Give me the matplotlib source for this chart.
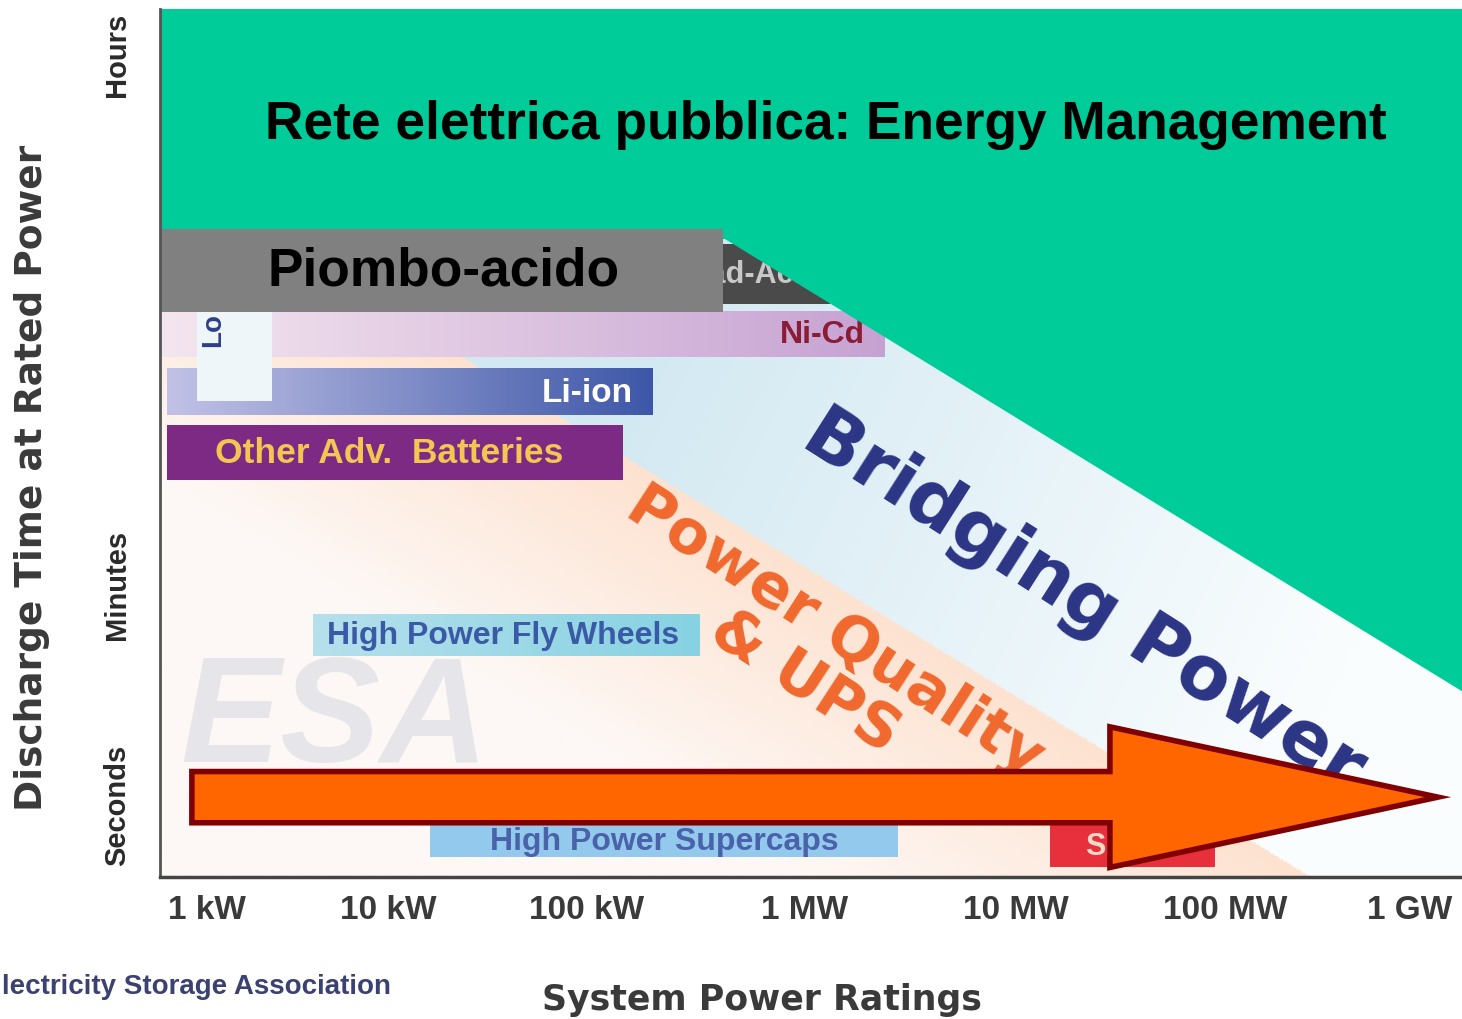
import numpy as np
import matplotlib
matplotlib.use("Agg")
import matplotlib.pyplot as plt
from matplotlib.patches import Polygon, Rectangle, FancyArrow
from matplotlib.colors import to_rgb

# ---------------- data (x = position on the power axis, decades from 1 kW; y = discharge-time scale 0..100) ----
power_ticks = [0, 0.903, 1.895, 2.983, 4.035, 5.077, 6.0]
power_labels = ["1 kW", "10 kW", "100 kW", "1 MW", "10 MW", "100 MW", "1 GW"]
time_ticks = [8.4, 33.8, 94.8]
time_labels = ["Seconds", "Minutes", "Hours"]

# technology bars: name, x_start, x_end, y_bottom, y_top
tech_names = ["Lead-Acid", "Ni-Cd", "Li-ion", "Other Adv.  Batteries", "Lo",
              "High Power Fly Wheels", "High Power Supercaps", "SMES"]
tech_x0 = [-0.234, -0.234, -0.20, -0.20, -0.05, 0.529, 1.112, 4.204]
tech_x1 = [3.107, 3.38, 2.224, 2.075, 0.324, 2.459, 3.446, 5.027]
tech_y0 = [66.0, 59.9, 53.2, 45.7, 54.8, 25.5, 2.3, 1.2]
tech_y1 = [72.9, 65.1, 58.5, 52.1, 65.1, 30.3, 6.0, 6.0]

# overlay bar "Piombo-acido"
lead_x = [-0.234, 2.574]
lead_y = [65.1, 74.7]

# Energy management region (green)
em_x = [-0.234, 6.26, 6.26, 2.584, -0.234]
em_y = [100, 100, 21.4, 73.5, 73.5]

# boundary of power-quality zone at the bottom axis
pq_x_at_bottom = 5.50

# arrow: start power, end power, level
arrow_x = [-0.075, 6.14]
arrow_y = 9.2

W, H = 1462, 1020
XMIN, XMAX = -0.234, 6.26

fig = plt.figure(figsize=(W / 100, H / 100), dpi=100)
fig.patch.set_facecolor("white")
ax = fig.add_axes([160 / W, 142 / H, 1302 / W, 868 / H])
ax.set_xlim(XMIN, XMAX)
ax.set_ylim(0, 100)

NARROW = ["Liberation Sans Narrow", "Liberation Sans", "DejaVu Sans"]
ARIAL = ["Liberation Sans", "DejaVu Sans"]

# ---------------- background gradient ----------------
gx = np.linspace(XMIN, XMAX, 700)
gy = np.linspace(0, 100, 450)
GX, GY = np.meshgrid(gx, gy)
slope = (em_y[2] - em_y[3]) / (em_x[2] - em_x[3])
peach_line = slope * (GX - pq_x_at_bottom)


def mix(c0, c1, t):
    c0 = np.array(to_rgb(c0)); c1 = np.array(to_rgb(c1))
    t = np.clip(t, 0, 1)[..., None]
    return c0 * (1 - t) + c1 * t


blue = mix("#d3e9f2", "#fafdfe", (GX - 1.8) / 4.2 + (40 - GY) / 200)
peach = mix("#fde2d0", "#fdf8f5", (peach_line - GY) / 35)
img = np.where((GY > peach_line)[..., None], blue, peach)
ax.imshow(img, extent=(XMIN, XMAX, 0, 100), origin="lower", aspect="auto", zorder=0)


def grad_bar(x0, x1, y0, y1, c0, c1, z=2):
    t = np.linspace(0, 1, 256)[None, :]
    im = mix(c0, c1, t)
    ax.imshow(im, extent=(x0, x1, y0, y1), origin="lower", aspect="auto", zorder=z)


# ESA watermark
ax.text(-0.13, 17.8, "ESA", fontsize=108, fontweight="bold", style="italic",
        color="#e6e6ea", family=ARIAL, ha="left", va="center", zorder=1)

# bars
i = tech_names.index("Lead-Acid")
ax.add_patch(Rectangle((tech_x0[i], tech_y0[i]), tech_x1[i] - tech_x0[i], tech_y1[i] - tech_y0[i],
                       facecolor="#4a4a4a", edgecolor="none", zorder=2))
ax.text(2.325, (tech_y0[i] + tech_y1[i]) / 2, "Lead-Acid", color="#c8c8c8", fontsize=22,
        fontweight="bold", family=NARROW, ha="left", va="center", zorder=3)

i = tech_names.index("Ni-Cd")
grad_bar(tech_x0[i], tech_x1[i], tech_y0[i], tech_y1[i], "#f4e6ef", "#c6a2d2")
ax.text(tech_x1[i] - 0.1, (tech_y0[i] + tech_y1[i]) / 2, "Ni-Cd", color="#8a1c36", fontsize=23,
        fontweight="bold", family=NARROW, ha="right", va="center", zorder=3)

i = tech_names.index("Li-ion")
grad_bar(tech_x0[i], tech_x1[i], tech_y0[i], tech_y1[i], "#c2c2e6", "#3d57a8")
ax.text(tech_x1[i] - 0.1, (tech_y0[i] + tech_y1[i]) / 2, "Li-ion", color="white", fontsize=24,
        fontweight="bold", family=NARROW, ha="right", va="center", zorder=3)

i = tech_names.index("Other Adv.  Batteries")
ax.add_patch(Rectangle((tech_x0[i], tech_y0[i]), tech_x1[i] - tech_x0[i], tech_y1[i] - tech_y0[i],
                       facecolor="#7c2a84", edgecolor="none", zorder=2))
ax.text(0.04, (tech_y0[i] + tech_y1[i]) / 2, tech_names[i], color="#f2c650", fontsize=25.5,
        fontweight="bold", family=NARROW, ha="left", va="center", zorder=3)

i = tech_names.index("Lo")
ax.add_patch(Rectangle((tech_x0[i], tech_y0[i]), tech_x1[i] - tech_x0[i], tech_y1[i] - tech_y0[i],
                       facecolor="#eef6fa", edgecolor="none", zorder=4))
ax.text(0.03, 61.2, "Lo", color="#2e3e8a", fontsize=20, fontweight="bold", family=NARROW,
        rotation=90, ha="center", va="bottom", zorder=5)

i = tech_names.index("High Power Fly Wheels")
grad_bar(tech_x0[i], tech_x1[i], tech_y0[i], tech_y1[i], "#b6e0ec", "#86d2e2")
ax.text(0.60, (tech_y0[i] + tech_y1[i]) / 2, tech_names[i], color="#3b5aa6", fontsize=23,
        fontweight="bold", family=NARROW, ha="left", va="center", zorder=3)

i = tech_names.index("High Power Supercaps")
ax.add_patch(Rectangle((tech_x0[i], tech_y0[i]), tech_x1[i] - tech_x0[i], tech_y1[i] - tech_y0[i],
                       facecolor="#93c9ec", edgecolor="none", zorder=2))
ax.text((tech_x0[i] + tech_x1[i]) / 2, (tech_y0[i] + tech_y1[i]) / 2, tech_names[i], color="#4a62aa",
        fontsize=23, fontweight="bold", family=NARROW, ha="center", va="center", zorder=3)

i = tech_names.index("SMES")
ax.add_patch(Rectangle((tech_x0[i], tech_y0[i]), tech_x1[i] - tech_x0[i], tech_y1[i] - tech_y0[i],
                       facecolor="#e8303c", edgecolor="none", zorder=2))
ax.text(4.38, (tech_y0[i] + tech_y1[i]) / 2, "SMES", color="#f6d8c8", fontsize=22,
        fontweight="bold", family=NARROW, ha="left", va="center", zorder=3)

# diagonal application labels
ax.text(4.375, 31.8, "Bridging Power", color="#2b3585", fontsize=54, fontweight="heavy",
        family=["DejaVu Sans"], rotation=-32.5, rotation_mode="anchor",
        ha="center", va="center", zorder=3)
ax.text(3.13, 28.3, "Power Quality", color="#f0692e", fontsize=44, fontweight="heavy",
        family=["DejaVu Sans"], rotation=-33, rotation_mode="anchor",
        ha="center", va="center", zorder=3)
ax.text(2.98, 22.5, "& UPS", color="#f0692e", fontsize=44, fontweight="heavy",
        family=["DejaVu Sans"], rotation=-33, rotation_mode="anchor",
        ha="center", va="center", zorder=3)

# energy management region and lead-acid overlay
ax.add_patch(Polygon(np.column_stack([em_x, em_y]), closed=True, facecolor="#00cc99",
                     edgecolor="none", zorder=6))
ax.text(0.289, 86.75, "Rete elettrica pubblica: Energy Management", color="black",
        fontsize=38.3, fontweight="bold", family=ARIAL, ha="left", va="center", zorder=7)
ax.add_patch(Rectangle((lead_x[0], lead_y[0]), lead_x[1] - lead_x[0], lead_y[1] - lead_y[0],
                       facecolor="#808080", edgecolor="none", zorder=7))
ax.text(0.304, (lead_y[0] + lead_y[1]) / 2, "Piombo-acido", color="black", fontsize=38.3,
        fontweight="bold", family=ARIAL, ha="left", va="center", zorder=8)

# big arrow
ax.add_patch(FancyArrow(arrow_x[0], arrow_y, arrow_x[1] - arrow_x[0], 0, width=5.9,
                        head_width=16.2, head_length=1.636, length_includes_head=True,
                        facecolor="#ff6600", edgecolor="#800000", linewidth=4,
                        joinstyle="miter", zorder=9))

# axes styling
ax.set_xticks(power_ticks)
ax.set_xticklabels(power_labels, fontsize=24, fontweight="bold", color="#3a3a3a", family=NARROW)
ax.set_yticks(time_ticks)
ax.set_yticklabels(time_labels, fontsize=21, fontweight="bold", color="#2a2a2a", family=NARROW,
                   rotation=90, va="center")
ax.tick_params(axis="x", length=0, pad=12)
ax.tick_params(axis="y", length=0, pad=21)
for s in ["top", "right"]:
    ax.spines[s].set_visible(False)
ax.spines["left"].set_color("#555555")
ax.spines["left"].set_linewidth(2)
ax.spines["bottom"].set_color("#444444")
ax.spines["bottom"].set_linewidth(2.5)
for s in ["left", "bottom"]:
    ax.spines[s].set_zorder(10)

fig.text(32 / W, 1 - 478 / H, "Discharge Time at Rated Power", rotation=90, fontsize=27,
         fontweight="bold", color="#3a3a3a", family=["DejaVu Sans"], ha="center", va="center")
fig.text(762 / W, 1 - 1000 / H, "System Power Ratings", fontsize=25, fontweight="bold",
         color="#3a3a3a", family=["DejaVu Sans"], ha="center", va="center")
fig.text(2 / W, 1 - 987 / H, "lectricity Storage Association", fontsize=20, fontweight="bold",
         color="#3b4170", family=NARROW, ha="left", va="center")

fig.savefig("out.png", dpi=100)
